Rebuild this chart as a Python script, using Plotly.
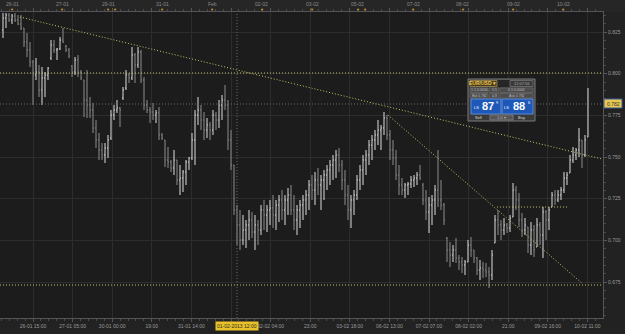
import plotly.graph_objects as go

# ---------------- data (EUR/USD hourly bars) ----------------
opens = [
 0.8262,0.8334,0.8352,0.8322,0.8346,0.8322,0.8298,0.8274,0.8190,0.8142,
 0.8070,0.7992,0.8010,0.7902,0.7974,0.7992,0.8094,0.8172,0.8142,0.8148,
 0.8202,0.8166,0.8142,0.8046,0.8010,0.8082,0.8010,0.7962,0.7842,0.7812,
 0.7782,0.7674,0.7602,0.7542,0.7512,0.7554,0.7614,0.7752,0.7782,0.7794,
 0.7854,0.7914,0.7992,0.7974,0.8112,0.8052,0.8130,0.7962,0.7812,0.7782,
 0.7770,0.7752,0.7764,0.7632,0.7602,0.7482,0.7470,0.7434,0.7482,0.7362,
 0.7374,0.7410,0.7470,0.7494,0.7602,0.7752,0.7782,0.7722,0.7662,0.7692,
 0.7662,0.7752,0.7722,0.7812,0.7842,0.7812,0.7602,0.7452,0.7182,0.7092,
 0.7002,0.7062,0.7092,0.7122,0.7050,0.7092,0.7062,0.7182,0.7152,0.7182,
 0.7194,0.7152,0.7212,0.7242,0.7182,0.7242,0.7272,0.7182,0.7122,0.7182,
 0.7212,0.7242,0.7272,0.7332,0.7302,0.7362,0.7332,0.7362,0.7392,0.7422,
 0.7452,0.7482,0.7512,0.7452,0.7362,0.7272,0.7182,0.7242,0.7272,0.7362,
 0.7422,0.7482,0.7512,0.7572,0.7602,0.7632,0.7662,0.7674,0.7734,0.7632,
 0.7542,0.7494,0.7392,0.7332,0.7302,0.7332,0.7338,0.7362,0.7374,0.7392,
 0.7332,0.7242,0.7170,0.7212,0.7242,0.7302,0.7242,0.7212,0.7014,0.6942,
 0.6912,0.6942,0.6894,0.6870,0.6852,0.6870,0.6972,0.6942,0.6894,0.6822,
 0.6834,0.6822,0.6810,0.6792,0.6984,0.7122,0.7092,0.7062,0.7092,0.7074,
 0.7140,0.7302,0.7242,0.7122,0.7062,0.7080,0.6972,0.7062,0.6960,0.7092,
 0.7032,0.7170,0.7122,0.7200,0.7272,0.7242,0.7272,0.7302,0.7374,0.7404,
 0.7482,0.7512,0.7542,0.7602,0.7512,0.7620]
highs = [
 0.8364,0.8364,0.8364,0.8358,0.8364,0.8352,0.8352,0.8274,0.8244,0.8190,
 0.8082,0.8094,0.8052,0.8040,0.8010,0.8040,0.8202,0.8202,0.8154,0.8220,
 0.8274,0.8172,0.8154,0.8052,0.8100,0.8112,0.8022,0.7962,0.8022,0.7860,
 0.7824,0.7722,0.7644,0.7584,0.7584,0.7632,0.7782,0.7812,0.7842,0.7800,
 0.7920,0.8022,0.8004,0.8160,0.8124,0.8160,0.8142,0.7980,0.7842,0.7800,
 0.7824,0.7782,0.7800,0.7644,0.7602,0.7560,0.7482,0.7542,0.7482,0.7452,
 0.7422,0.7482,0.7500,0.7644,0.7782,0.7860,0.7812,0.7770,0.7734,0.7710,
 0.7782,0.7770,0.7842,0.7872,0.7932,0.7842,0.7662,0.7452,0.7212,0.7182,
 0.7152,0.7122,0.7182,0.7170,0.7152,0.7122,0.7212,0.7242,0.7212,0.7242,
 0.7272,0.7242,0.7272,0.7302,0.7272,0.7314,0.7332,0.7272,0.7212,0.7242,
 0.7272,0.7302,0.7362,0.7392,0.7410,0.7434,0.7392,0.7422,0.7452,0.7482,
 0.7512,0.7542,0.7554,0.7482,0.7422,0.7332,0.7272,0.7302,0.7392,0.7452,
 0.7512,0.7542,0.7602,0.7632,0.7662,0.7722,0.7692,0.7770,0.7752,0.7662,
 0.7602,0.7542,0.7452,0.7374,0.7344,0.7350,0.7386,0.7392,0.7410,0.7452,
 0.7344,0.7302,0.7260,0.7272,0.7332,0.7542,0.7362,0.7224,0.7020,0.6990,
 0.6972,0.7014,0.6912,0.6900,0.6882,0.7002,0.7020,0.6942,0.6900,0.6882,
 0.6870,0.6864,0.6840,0.6942,0.7152,0.7182,0.7122,0.7134,0.7104,0.7152,
 0.7344,0.7326,0.7284,0.7164,0.7134,0.7080,0.7110,0.7092,0.7134,0.7110,
 0.7200,0.7182,0.7200,0.7290,0.7302,0.7302,0.7320,0.7410,0.7410,0.7512,
 0.7560,0.7554,0.7674,0.7602,0.7632,0.7914]
lows = [
 0.8214,0.8274,0.8310,0.8298,0.8310,0.8292,0.8262,0.8160,0.8100,0.8040,
 0.7812,0.7962,0.7860,0.7812,0.7860,0.7962,0.8082,0.8124,0.8082,0.8142,
 0.8184,0.8130,0.8094,0.7980,0.7992,0.7980,0.7962,0.7740,0.7734,0.7734,
 0.7644,0.7554,0.7482,0.7482,0.7464,0.7494,0.7602,0.7722,0.7764,0.7680,
 0.7842,0.7902,0.7944,0.7962,0.7944,0.8034,0.7944,0.7782,0.7764,0.7704,
 0.7722,0.7704,0.7602,0.7602,0.7440,0.7434,0.7410,0.7392,0.7332,0.7272,
 0.7290,0.7332,0.7422,0.7482,0.7452,0.7692,0.7662,0.7602,0.7614,0.7602,
 0.7632,0.7662,0.7674,0.7722,0.7782,0.7542,0.7422,0.7152,0.6972,0.6942,
 0.6972,0.6954,0.7002,0.7014,0.6942,0.6972,0.7032,0.7062,0.7050,0.7092,
 0.7074,0.7062,0.7110,0.7122,0.7092,0.7152,0.7152,0.7062,0.7032,0.7074,
 0.7122,0.7152,0.7182,0.7242,0.7212,0.7272,0.7182,0.7242,0.7302,0.7332,
 0.7362,0.7374,0.7410,0.7302,0.7212,0.7122,0.7074,0.7152,0.7242,0.7302,
 0.7332,0.7392,0.7452,0.7482,0.7542,0.7572,0.7542,0.7632,0.7602,0.7482,
 0.7452,0.7362,0.7272,0.7272,0.7254,0.7272,0.7314,0.7320,0.7332,0.7362,
 0.7212,0.7122,0.7044,0.7092,0.7152,0.7200,0.7182,0.7092,0.6870,0.6840,
 0.6870,0.6864,0.6822,0.6804,0.6792,0.6870,0.6900,0.6864,0.6792,0.6762,
 0.6774,0.6780,0.6714,0.6762,0.6984,0.7032,0.7002,0.7032,0.7044,0.7050,
 0.7140,0.7182,0.7080,0.7020,0.7032,0.6924,0.6912,0.6900,0.6960,0.6972,
 0.6894,0.7002,0.7062,0.7200,0.7212,0.7230,0.7242,0.7284,0.7332,0.7404,
 0.7464,0.7482,0.7500,0.7434,0.7500,0.7620]
closes = [
 0.8334,0.8352,0.8322,0.8346,0.8322,0.8298,0.8274,0.8190,0.8142,0.8070,
 0.7992,0.8010,0.7902,0.7974,0.7992,0.8034,0.8172,0.8142,0.8148,0.8202,
 0.8190,0.8142,0.8106,0.8010,0.8082,0.8010,0.7974,0.7842,0.7812,0.7782,
 0.7674,0.7602,0.7542,0.7512,0.7554,0.7602,0.7752,0.7782,0.7794,0.7782,
 0.7902,0.7992,0.7974,0.8112,0.8052,0.8130,0.7962,0.7812,0.7782,0.7770,
 0.7752,0.7764,0.7632,0.7614,0.7482,0.7470,0.7434,0.7482,0.7362,0.7374,
 0.7410,0.7470,0.7494,0.7602,0.7752,0.7782,0.7722,0.7662,0.7692,0.7662,
 0.7752,0.7722,0.7812,0.7842,0.7812,0.7602,0.7452,0.7182,0.7092,0.7002,
 0.7062,0.7092,0.7122,0.7050,0.7092,0.7062,0.7182,0.7152,0.7182,0.7194,
 0.7152,0.7212,0.7242,0.7182,0.7242,0.7272,0.7182,0.7122,0.7182,0.7212,
 0.7242,0.7272,0.7332,0.7302,0.7362,0.7332,0.7362,0.7392,0.7422,0.7452,
 0.7482,0.7512,0.7452,0.7362,0.7272,0.7182,0.7242,0.7272,0.7362,0.7422,
 0.7482,0.7512,0.7572,0.7602,0.7632,0.7662,0.7674,0.7734,0.7632,0.7542,
 0.7494,0.7392,0.7332,0.7302,0.7332,0.7338,0.7362,0.7374,0.7392,0.7374,
 0.7242,0.7170,0.7212,0.7242,0.7302,0.7242,0.7212,0.7122,0.6942,0.6912,
 0.6942,0.6894,0.6870,0.6852,0.6870,0.6972,0.6942,0.6894,0.6822,0.6834,
 0.6822,0.6810,0.6792,0.6912,0.7122,0.7092,0.7062,0.7092,0.7074,0.7134,
 0.7302,0.7242,0.7122,0.7062,0.7092,0.6972,0.7062,0.6942,0.7092,0.7032,
 0.7170,0.7122,0.7182,0.7272,0.7242,0.7272,0.7302,0.7374,0.7392,0.7482,
 0.7512,0.7542,0.7602,0.7512,0.7602,0.7818]

bottom_labels = ["26-01 15:00", "27-01 05:00", "30-01 00:00", "19:00", "31-01 14:00", "",
                 "02-02 04:00", "23:00", "03-02 18:00", "06-02 13:00", "07-02 07:00",
                 "08-02 02:00", "21:00", "09-02 16:00", "10-02 11:00"]
top_labels = ["26-01", "27-01", "29-01", "31-01", "Feb", "02-02", "03-02", "05-02",
              "07-02", "08-02", "09-02", "10-02"]
top_label_bars = [3, 19.7, 35, 53, 69.7, 86.3, 103, 118.3, 136.7, 153.3, 170, 186.7]
event_bars = top_label_bars + [37.2, 120.6]
price_ticks = [0.675, 0.700, 0.725, 0.750, 0.775, 0.800, 0.825]

h_levels = [0.8004, 0.6732]
trend1_x, trend1_y = [5.7, 199.7], [0.8340, 0.7488]
trend2_x, trend2_y = [128.3, 193.3], [0.7752, 0.6738]
box_x, box_y = [164.7, 188.3], [0.7200, 0.7200]
last_price = 0.7818
cursor_bar = 78
cursor_label = "01-02-2013 12:00"
symbol = "EUR/USD"
sell_big, buy_big = "87", "88"

bar_index = list(range(len(closes)))

# ---------------- figure ----------------
W, H = 625, 334
ML, MR, MT, MB = 0, 22, 12, 16
PW = W - ML - MR
PB = H - MB
PH = H - MT - MB
X0, X1 = -1, 200
Y0, Y1 = 0.6534, 0.8370

BG = "#1c1c1c"
GRID = "#2d2d2d"
AXC = "#9a9a9a"
YEL = "#c9c46a"
FONT = "Liberation Sans"

fig = go.Figure()
fig.add_trace(go.Ohlc(
    x=bar_index, open=opens, high=highs, low=lows, close=closes,
    increasing=dict(line=dict(color="#dcdcdc", width=1)),
    decreasing=dict(line=dict(color="#8c8c8c", width=1)),
    tickwidth=0.3, hoverinfo="skip", showlegend=False))

for lvl in h_levels:
    fig.add_trace(go.Scatter(x=[X0, X1], y=[lvl, lvl], mode="lines",
                             line=dict(color=YEL, width=1, dash="1px,2px"),
                             hoverinfo="skip", showlegend=False))
for xs, ys in [(trend1_x, trend1_y), (trend2_x, trend2_y), (box_x, box_y)]:
    fig.add_trace(go.Scatter(x=xs, y=ys, mode="lines",
                             line=dict(color=YEL, width=1, dash="1px,2px"),
                             hoverinfo="skip", showlegend=False))

shapes = []
ann = []

def px_x(px):
    return (px - ML) / PW

def px_y(py):
    return (PB - py) / PH

def rect(x0, y0, x1, y1, fill, line=None, lw=1):
    shapes.append(dict(type="rect", xref="paper", yref="paper",
                       x0=px_x(x0), x1=px_x(x1), y0=px_y(y1), y1=px_y(y0),
                       fillcolor=fill, line=dict(color=line or fill, width=lw if line else 0),
                       layer="above"))

def txt(px, py, text, size=5, color="#cccccc", xanchor="center", bg=None, bold=False, ref_data=False):
    ann.append(dict(x=px if ref_data else px_x(px), y=px_y(py),
                    xref="x" if ref_data else "paper", yref="paper",
                    text=("<b>%s</b>" % text) if bold else text, showarrow=False,
                    xanchor=xanchor, yanchor="middle",
                    font=dict(family=FONT, size=size, color=color),
                    bgcolor=bg, borderpad=1 if bg else 0))

# top strip
shapes.append(dict(type="rect", xref="paper", yref="paper", x0=0, x1=W / PW,
                   y0=1, y1=px_y(0), fillcolor="#262626", line=dict(width=0), layer="below"))
# current price line & crosshair
shapes.append(dict(type="line", xref="paper", yref="y", x0=0, x1=1, y0=last_price, y1=last_price,
                   line=dict(color="#6a6a6a", width=1, dash="1px,2px")))
shapes.append(dict(type="line", xref="x", yref="paper", x0=cursor_bar, x1=cursor_bar, y0=0, y1=1,
                   line=dict(color="#6a6a6a", width=1, dash="1px,2px")))

# top labels and event markers
for lab, b in zip(top_labels, top_label_bars):
    txt(b, 4, lab, size=5, color="#8a8a8a", ref_data=True)
for b in event_bars:
    txt(b, 9.5, "▼", size=4, color="#d8a030", ref_data=True)

# cursor time label
txt(cursor_bar, 325.5, cursor_label, size=5, color="#2a2a2a", bg="#e8c228", ref_data=True)

# last price label on right axis
rect(604, 99, 622, 108, "#e8c850", line="#3a5aa0", lw=1)
txt(613, 103.5, "%.3f" % last_price, size=5, color="#303030")

# trading widget
rect(468, 79, 535, 121, "#3a3a3a", line="#7a7a7a", lw=1)
rect(469, 80, 534, 87, "#262626")
rect(470, 80.5, 497, 86.5, "#4a3c1e", line="#8a7a4a", lw=1)
txt(482, 83.5, symbol + " ▾", size=5, color="#f0c850", bold=True)
rect(510, 80.5, 533, 86.5, "#3a3a3a", line="#666666", lw=1)
txt(521.5, 83.5, "12:07:56", size=4, color="#aaaaaa")
for (a, b_, t) in [(470, 488, "1.1 0.0004"), (489, 499, "0.5"), (500, 533, "0.1 0.0004")]:
    rect(a, 88, b_, 92.5, "#4c4c4c", line="#5e5e5e", lw=1)
    txt((a + b_) / 2, 90.3, t, size=3.5, color="#bbbbbb")
for (a, b_, t) in [(470, 488, "Bid 0.782"), (489, 499, "0.8"), (500, 533, "Ask 0.782")]:
    rect(a, 93.5, b_, 98, "#4c4c4c", line="#5e5e5e", lw=1)
    txt((a + b_) / 2, 95.8, t, size=3.5, color="#bbbbbb")
rect(471, 99, 501, 114, "#1d58b8", line="#5d8ad8", lw=1)
rect(502, 99, 533, 114, "#1d58b8", line="#5d8ad8", lw=1)
txt(476, 107, "LS", size=4, color="#ffffff")
txt(488, 106, sell_big, size=11, color="#ffffff", bold=True)
txt(497, 102.5, "9", size=4, color="#ffffff")
txt(507, 107, "LS", size=4, color="#ffffff")
txt(519, 106, buy_big, size=11, color="#ffffff", bold=True)
txt(529, 102.5, "6", size=4, color="#ffffff")
txt(478, 117.5, "Sell", size=4, color="#dddddd")
rect(490, 115, 513, 120, "#555555", line="#777777", lw=1)
txt(501, 117.5, "1.0 ▾", size=4, color="#bbbbbb")
txt(521, 117.5, "Buy", size=4, color="#dddddd")

# bottom tick positions (every ~13.2 bars, starting at bar 10)
step = 13.2
tickvals = [10 + step * k for k in range(len(bottom_labels))]

fig.update_layout(
    width=W, height=H,
    margin=dict(l=ML, r=MR, t=MT, b=MB, pad=0),
    paper_bgcolor="#222222", plot_bgcolor=BG,
    shapes=shapes, annotations=ann,
    showlegend=False,
    xaxis=dict(range=[X0, X1], rangeslider=dict(visible=False),
               tickmode="array", tickvals=tickvals, ticktext=bottom_labels,
               showgrid=True, gridcolor=GRID, gridwidth=1, zeroline=False,
               showline=True, linecolor="#555555", linewidth=1, mirror="allticks",
               ticks="outside", ticklen=3, tickcolor="#555555",
               minor=dict(tickmode="linear", tick0=10, dtick=step / 5, ticklen=2,
                          tickcolor="#4a4a4a", showgrid=False),
               tickfont=dict(family=FONT, size=5, color=AXC), tickangle=0),
    yaxis=dict(range=[Y0, Y1], side="right", tickmode="array", tickvals=price_ticks,
               ticktext=["%.3f" % v for v in price_ticks],
               showgrid=True, gridcolor=GRID, gridwidth=1, zeroline=False,
               showline=True, linecolor="#555555", linewidth=1,
               ticks="outside", ticklen=3, tickcolor="#555555",
               minor=dict(tickmode="linear", tick0=0.675, dtick=0.005, ticklen=2,
                          tickcolor="#4a4a4a", showgrid=False),
               tickfont=dict(family=FONT, size=5, color=AXC)),
)

fig.write_html("out.html")
